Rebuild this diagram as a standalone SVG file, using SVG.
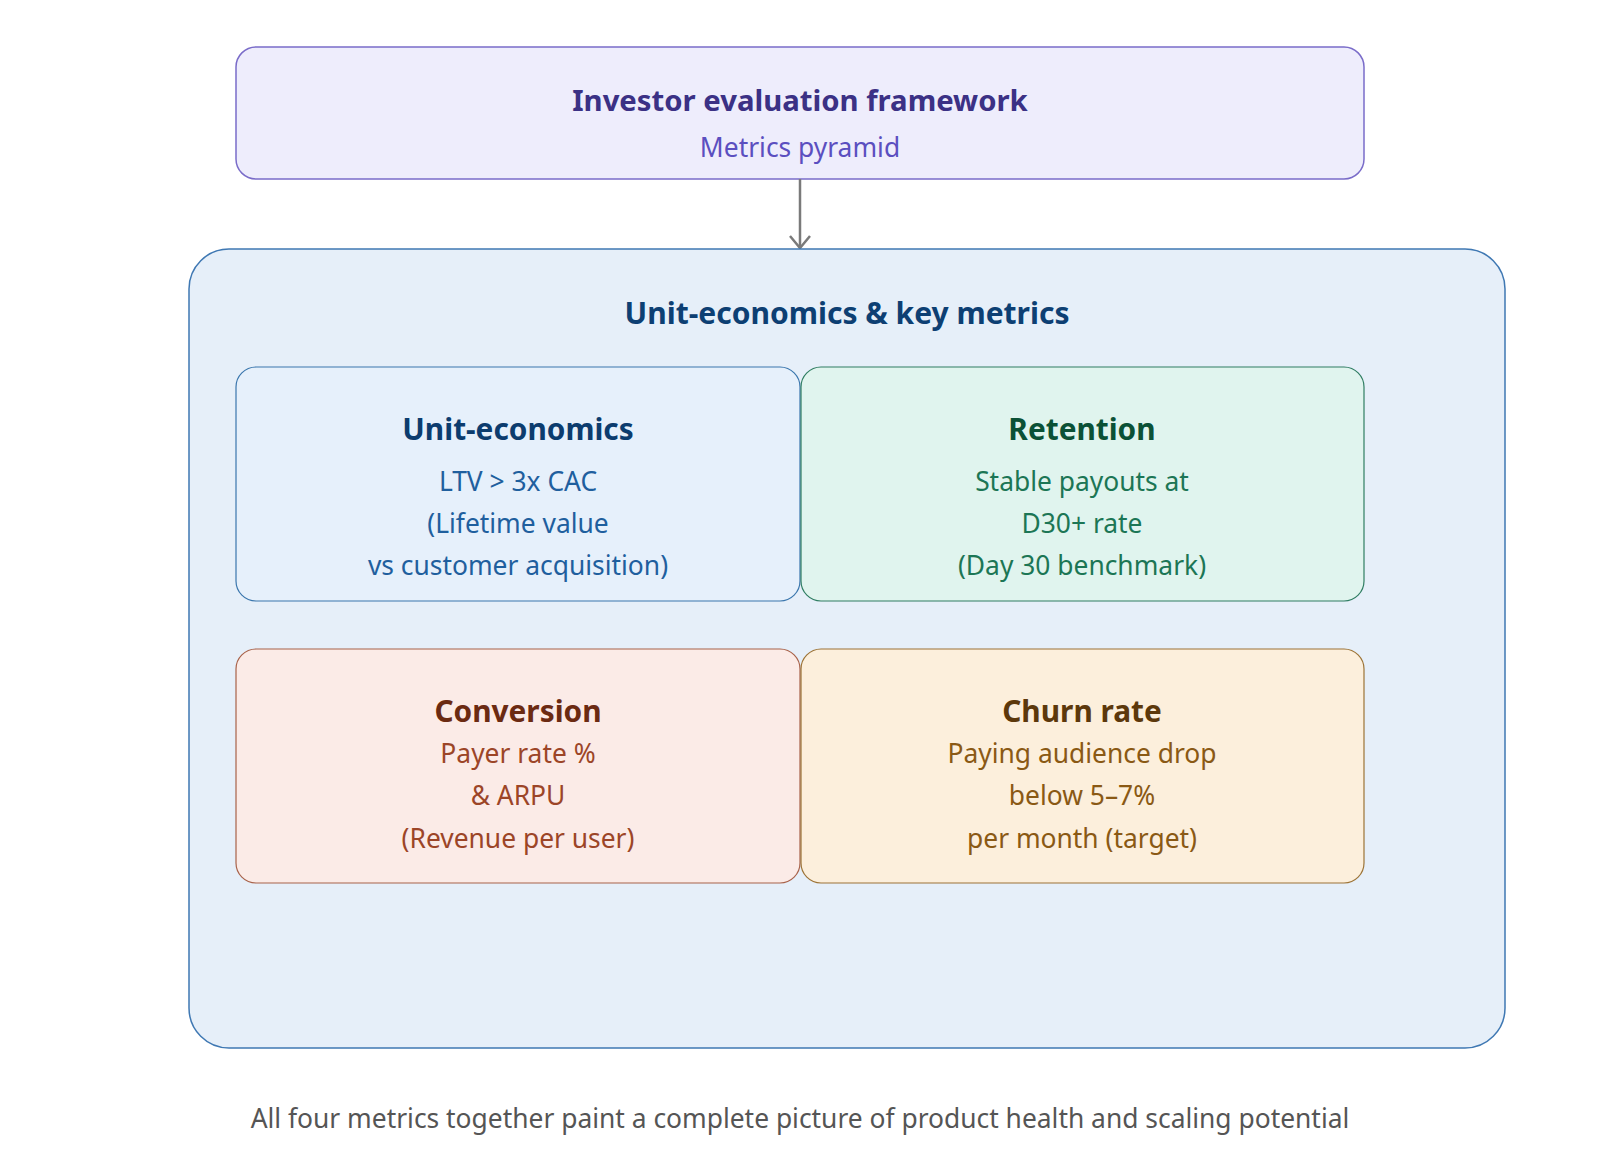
<svg xmlns="http://www.w3.org/2000/svg" width="1600" height="1176" viewBox="0 0 1600 1176">
<defs>
<style>
text{font-family:"Noto Sans","Open Sans","Liberation Sans",sans-serif;text-anchor:middle}
.h{font-weight:700;font-size:29.3px}
.o{font-weight:700;font-size:30px}
.t{font-weight:700;font-size:29.8px}
.b{font-size:26.4px}
</style>
<marker id="arr" viewBox="0 0 16 22" refX="14" refY="11" markerWidth="16" markerHeight="22" markerUnits="userSpaceOnUse" orient="auto">
<path d="M2,1 L14,11 L2,21" fill="none" stroke="#7a7a7a" stroke-width="2.5"/>
</marker>
</defs>
<rect width="1600" height="1176" fill="#ffffff"/>
<g id="framework">
<rect x="236" y="47" width="1128" height="132" rx="20" fill="#eeedfc" stroke="#7a6cc9" stroke-width="1.5"/>
<text class="h" x="800" y="111" fill="#3b3185">Investor evaluation framework</text>
<text class="b" x="800" y="157" fill="#5b4fc0">Metrics pyramid</text>
</g>
<g id="connectors">
<line x1="800" y1="179" x2="800" y2="248" stroke="#7a7a7a" stroke-width="2.5" marker-end="url(#arr)"/>
</g>
<g id="metrics">
<rect x="189" y="249" width="1316" height="799" rx="40" fill="#e6eff9" stroke="#3f78b3" stroke-width="1.5"/>
<text class="o" x="847" y="324" fill="#0d3f73">Unit-economics &amp; key metrics</text>
</g>
<g id="unit-economics">
<rect x="236" y="367" width="564" height="234" rx="20" fill="#e6f0fb" stroke="#3a76ad" stroke-width="1.2"/>
<text class="t" x="518" y="440" fill="#0c3c6e">Unit-economics</text>
<text class="b" x="518" y="491" fill="#1f5f9e">LTV &gt; 3x CAC</text>
<text class="b" x="518" y="533" fill="#1f5f9e">(Lifetime value</text>
<text class="b" x="518" y="575" fill="#1f5f9e">vs customer acquisition)</text>
</g>
<g id="retention">
<rect x="801" y="367" width="563" height="234" rx="20" fill="#e0f4ee" stroke="#2f7d62" stroke-width="1.2"/>
<text class="t" x="1082" y="440" fill="#0b5136">Retention</text>
<text class="b" x="1082" y="491" fill="#1c7655">Stable payouts at</text>
<text class="b" x="1082" y="533" fill="#1c7655">D30+ rate</text>
<text class="b" x="1082" y="575" fill="#1c7655">(Day 30 benchmark)</text>
</g>
<g id="conversion">
<rect x="236" y="649" width="564" height="234" rx="20" fill="#fbebe7" stroke="#a8624a" stroke-width="1.2"/>
<text class="t" x="518" y="722" fill="#6b2a12">Conversion</text>
<text class="b" x="518" y="763" fill="#9c4527">Payer rate %</text>
<text class="b" x="518" y="805" fill="#9c4527">&amp; ARPU</text>
<text class="b" x="518" y="848" fill="#9c4527">(Revenue per user)</text>
</g>
<g id="churn">
<rect x="801" y="649" width="563" height="234" rx="20" fill="#fcefdc" stroke="#9c7336" stroke-width="1.2"/>
<text class="t" x="1082" y="722" fill="#5c380b">Churn rate</text>
<text class="b" x="1082" y="763" fill="#8a5914">Paying audience drop</text>
<text class="b" x="1082" y="805" fill="#8a5914">below 5–7%</text>
<text class="b" x="1082" y="848" fill="#8a5914">per month (target)</text>
</g>
<g id="caption">
<text class="b" x="800" y="1128" fill="#555555">All four metrics together paint a complete picture of product health and scaling potential</text>
</g>
</svg>
